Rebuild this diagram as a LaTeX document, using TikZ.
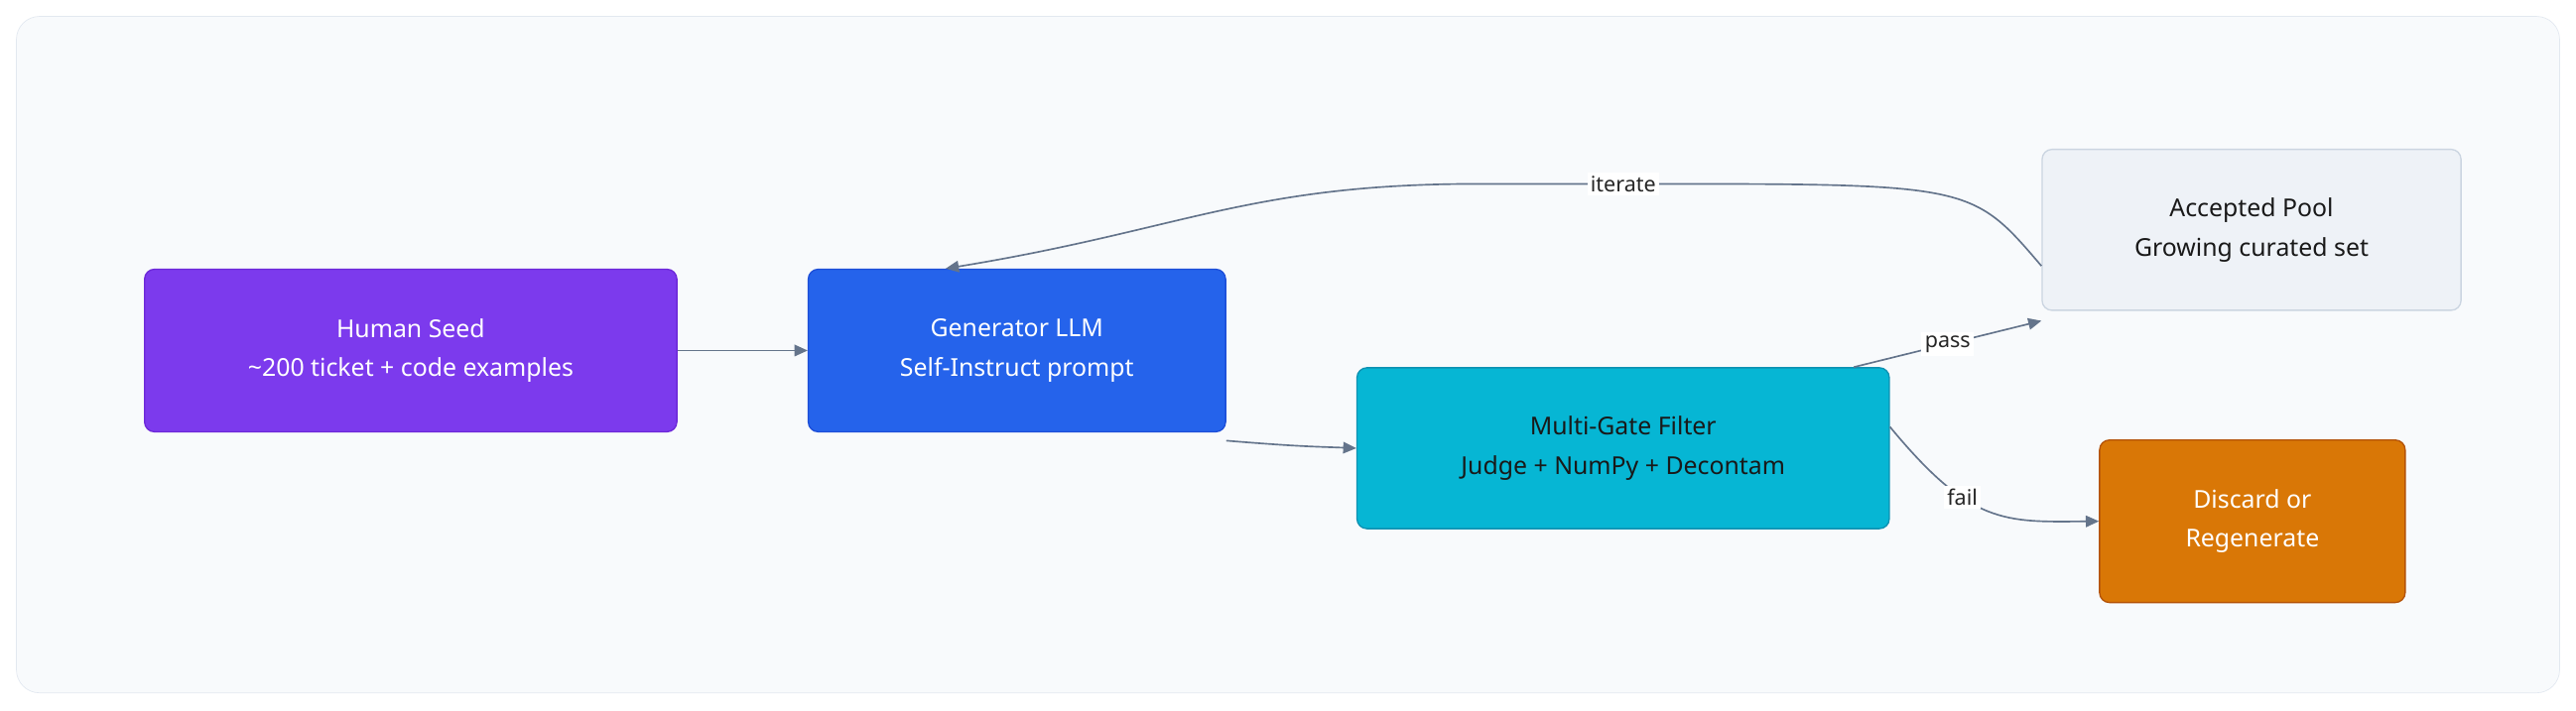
\documentclass[tikz,border=0pt]{standalone}
\usepackage{fontspec}
\setmainfont{Noto Sans}
\usetikzlibrary{arrows.meta}
\definecolor{edge}{HTML}{64748B}
\begin{document}
\begin{tikzpicture}[x=1pt,y=-1pt,
  box/.style={rounded corners=6pt,line width=0.8pt,align=center,font=\fontsize{15}{24}\selectfont},
  conn/.style={draw=edge,line width=1pt,-{Triangle[length=8pt,width=7pt]}},
  lab/.style={fill=white,inner sep=2pt,font=\fontsize{13}{15}\selectfont,text=black!85}]
\useasboundingbox (0,0) rectangle (1568,433);
\fill[white] (0,0) rectangle (1568,433);
\draw[rounded corners=14pt,fill={rgb,255:red,248;green,250;blue,252},draw={rgb,255:red,226;green,232;blue,240}] (10,10) rectangle (1558,422);
\node[box,fill={rgb,255:red,124;green,58;blue,237},draw={rgb,255:red,109;green,40;blue,217},text=white,minimum width=324pt,minimum height=99pt] (seed) at (250,213.5) {Human Seed\\\textasciitilde200 ticket + code examples};
\node[box,fill={rgb,255:red,37;green,99;blue,235},draw={rgb,255:red,29;green,78;blue,216},text=white,minimum width=254pt,minimum height=99pt] (gen) at (619,213.5) {Generator LLM\\Self-Instruct prompt};
\node[box,fill={rgb,255:red,6;green,182;blue,212},draw={rgb,255:red,14;green,145;blue,178},text=black!90,minimum width=324pt,minimum height=98pt] (filt) at (988,273) {Multi-Gate Filter\\Judge + NumPy + Decontam};
\node[box,fill={rgb,255:red,238;green,242;blue,247},draw={rgb,255:red,203;green,213;blue,225},text=black!90,minimum width=255pt,minimum height=98pt] (pool) at (1370.5,140) {Accepted Pool\\Growing curated set};
\node[box,fill={rgb,255:red,217;green,119;blue,6},draw={rgb,255:red,180;green,83;blue,9},text=white,minimum width=186pt,minimum height=99pt] (disc) at (1371,317.5) {Discard or\\Regenerate};
\draw[conn] (seed.east) -- (gen.west);
\draw[conn] ([yshift=-5pt]gen.south east) .. controls (790,272) and (800,272) .. (filt.west);
\draw[conn] ([xshift=-22pt]filt.north east) -- node[lab,pos=0.5]{pass} ([yshift=-6pt]pool.south west);
\draw[conn] ([yshift=13pt]filt.east) .. controls (1200,320) and (1220,318) .. node[lab,pos=0.35]{fail} (disc.west);
\draw[conn] ([yshift=-22pt]pool.west) .. controls (1200,112) .. (1000,112) -- (900,112) .. controls (760,112) and (720,140) .. ([xshift=84pt]gen.north west);
\node[lab] (it) at (988,112) {iterate};
\end{tikzpicture}
\end{document}
